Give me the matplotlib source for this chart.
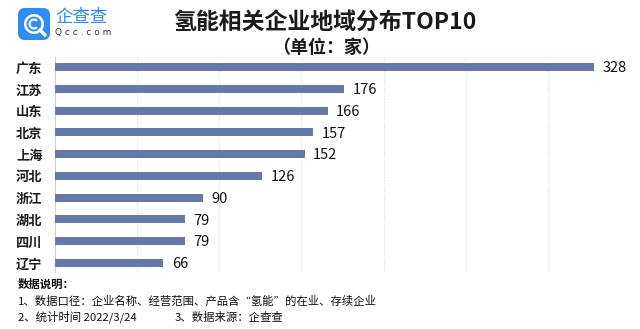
import matplotlib
matplotlib.use("Agg")
import matplotlib.pyplot as plt
from matplotlib.patches import FancyBboxPatch, Wedge

plt.rcParams['font.family'] = ['Noto Sans CJK SC', 'DejaVu Sans']

regions = ["广东", "江苏", "山东", "北京", "上海", "河北", "浙江", "湖北", "四川", "辽宁"]
counts = [328, 176, 166, 157, 152, 126, 90, 79, 79, 66]
xticks = [0, 50, 100, 150, 200, 250, 300, 350]

title = "氢能相关企业地域分布TOP10"
subtitle = "（单位：家）"
notes = ["数据说明：",
         "1、数据口径：企业名称、经营范围、产品含“氢能”的在业、存续企业",
         "2、统计时间 2022/3/24"]
note_source = "3、数据来源：企查查"

W, H = 640, 329
fig = plt.figure(figsize=(W / 100, H / 100), dpi=100)
fig.patch.set_facecolor("white")

ax = fig.add_axes([55 / W, 1 - 272 / H, (630 - 55) / W, (272 - 57) / H])
y = list(range(len(regions)))
ax.barh(y, counts, height=0.37, color="#6279A9", zorder=3)
ax.set_xlim(0, 350)
ax.set_ylim(9.42, -0.46)
ax.set_xticks(xticks)
ax.set_xticklabels([])
ax.tick_params(axis="x", length=0)
ax.tick_params(axis="y", length=0, pad=9)
ax.set_yticks(y)
ax.set_yticklabels(regions, fontsize=9.5, fontweight="bold", color="#1A1A1A")
ax.grid(axis="x", color="#D9D9D9", linestyle=(0, (1, 1.5)), linewidth=0.8, zorder=0)
for s in ["top", "right", "bottom"]:
    ax.spines[s].set_visible(False)
ax.spines["left"].set_color("#D0D0D0")
ax.spines["left"].set_linewidth(0.8)

for yi, v in zip(y, counts):
    ax.annotate(str(v), (v, yi), xytext=(6, -1), textcoords="offset points",
                va="center", ha="left", fontsize=10.5, color="#111111")

fig.text(325 / W, 1 - 22 / H, title, ha="center", va="center",
         fontsize=16.5, fontweight="bold", color="#1A1A1A")
fig.text(326 / W, 1 - 47 / H, subtitle, ha="center", va="center",
         fontsize=13, fontweight="bold", color="#1A1A1A")

# logo
lax = fig.add_axes([18 / W, 1 - 40 / H, 32 / W, 32 / H])
lax.set_xlim(0, 32)
lax.set_ylim(0, 32)
lax.axis("off")
lax.add_patch(FancyBboxPatch((0, 0), 32, 32, boxstyle="round,pad=0,rounding_size=7",
                             facecolor="#2F8CF4", edgecolor="none"))
lax.add_patch(Wedge((16, 16), 10, 0, 360, width=2.6, facecolor="white", edgecolor="none"))
lax.add_patch(Wedge((16, 16), 5.5, 45, 315, width=2.2, facecolor="white", edgecolor="none"))
lax.plot([22, 27], [10, 5], color="white", linewidth=2.5, solid_capstyle="round")
fig.text(55 / W, 1 - 17 / H, "企查查", ha="left", va="center", fontsize=12.5,
         color="#2F8CF4")
fig.text(55 / W, 1 - 33 / H, "Q c c . c o m", ha="left", va="center", fontsize=6.5,
         color="#333333", family=["DejaVu Sans"])

ys = [284, 301, 317]
for t, yy in zip(notes, ys):
    fig.text(18 / W, 1 - yy / H, t, ha="left", va="center", fontsize=8.2,
             fontweight="bold" if t == notes[0] else "normal", color="#111111")
fig.text(175 / W, 1 - ys[2] / H, note_source, ha="left", va="center", fontsize=8.2,
         color="#111111")

fig.savefig("out.png", dpi=100)
